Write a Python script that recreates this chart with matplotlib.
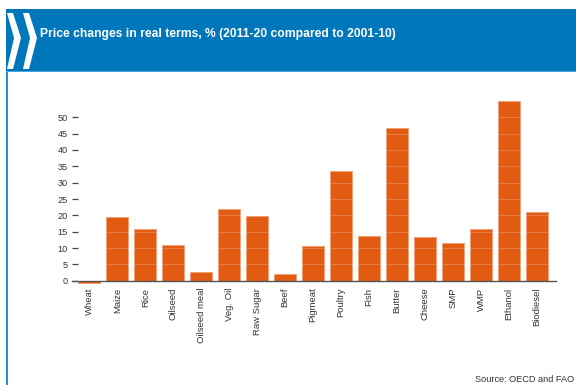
import matplotlib
matplotlib.use("Agg")
import matplotlib.pyplot as plt
from matplotlib.patches import Polygon, Rectangle

categories = ["Wheat", "Maize", "Rice", "Oilseed", "Oilseed meal", "Veg. Oil", "Raw Sugar",
              "Beef", "Pigmeat", "Poultry", "Fish", "Butter", "Cheese", "SMP", "WMP",
              "Ethanol", "Biodiesel"]
values = [-0.6, 19.4, 15.7, 11.0, 2.8, 21.9, 19.7, 2.0, 10.7, 33.7, 13.8, 46.6, 13.5,
          11.4, 15.9, 55.1, 21.1]
yticks = [0, 5, 10, 15, 20, 25, 30, 35, 40, 45, 50]
title = "Price changes in real terms, % (2011-20 compared to 2001-10)"
source = "Source: OECD and FAO"

W, H = 576, 385
plt.rcParams['font.family'] = ['Liberation Sans', 'DejaVu Sans']
fig = plt.figure(figsize=(W / 100, H / 100), dpi=100)
fig.patch.set_facecolor('white')

def fx(px):
    return px / W

def fy(py):
    return 1 - py / H

blue = '#0077BB'
# header band
fig.patches.append(Rectangle((fx(6), fy(71)), fx(576) - fx(6), fy(9) - fy(71),
                             transform=fig.transFigure, facecolor=blue, edgecolor='none', zorder=0))
# left border line
fig.patches.append(Rectangle((fx(6), fy(385)), fx(2), fy(71) - fy(385),
                             transform=fig.transFigure, facecolor='#2B8ED6', edgecolor='none', zorder=0))
# header bottom light line
fig.patches.append(Rectangle((fx(6), fy(72)), fx(576) - fx(6), fy(71) - fy(72),
                             transform=fig.transFigure, facecolor='#4DA3DE', edgecolor='none', zorder=0))
# chevrons
for x0 in (7, 23):
    pts = [(x0, 13), (x0 + 6, 13), (x0 + 14, 38), (x0 + 6, 69), (x0, 69), (x0 + 7, 38)]
    fig.patches.append(Polygon([(fx(a), fy(b)) for a, b in pts], closed=True,
                               transform=fig.transFigure, facecolor='white', edgecolor='none', zorder=1))

fig.text(fx(40), fy(34), title, color='white', fontsize=8.75, fontweight='bold',
         va='center', ha='left')
fig.text(fx(574), fy(379), source, color='#333333', fontsize=6.6, va='center', ha='right')

# axes
ymin, ymax = -2, 56
ppu = (280.7 - 117.3) / 50.0
ax_bottom_px = 280.7 + (0 - ymin) * ppu
ax_top_px = 280.7 - ymax * ppu
ax = fig.add_axes([fx(71.7), fy(ax_bottom_px), fx(556) - fx(71.7), fy(ax_top_px) - fy(ax_bottom_px)])
ax.set_facecolor('none')
x = list(range(len(categories)))
ax.bar(x, values, width=0.78, color='#E15B12', edgecolor='#F0A070', linewidth=0.6, zorder=1)
ax.set_xlim(-0.63, 16.68)
ax.set_ylim(ymin, ymax)
for s in ('top', 'right', 'left'):
    ax.spines[s].set_visible(False)
ax.spines['bottom'].set_position(('data', 0))
ax.spines['bottom'].set_color('#555555')
ax.spines['bottom'].set_linewidth(1.0)
ax.spines['bottom'].set_zorder(3)
ax.set_yticks(yticks)
ax.set_yticklabels([str(v) for v in yticks])
ax.tick_params(axis='y', direction='in', length=4.5, width=0.9, color='#444444',
               labelsize=6.6, labelcolor='#333333', pad=2.6)
ax.set_xticks(x)
ax.set_xticklabels(categories, rotation=90)
ax.tick_params(axis='x', length=0, labelsize=6.8, labelcolor='#333333', pad=5)
ax.set_axisbelow(False)
ax.yaxis.grid(True, color='white', alpha=0.2, linewidth=0.8)
for gl in ax.yaxis.get_gridlines():
    gl.set_zorder(2)
ax.xaxis.grid(False)

fig.savefig('out.png', dpi=100)
